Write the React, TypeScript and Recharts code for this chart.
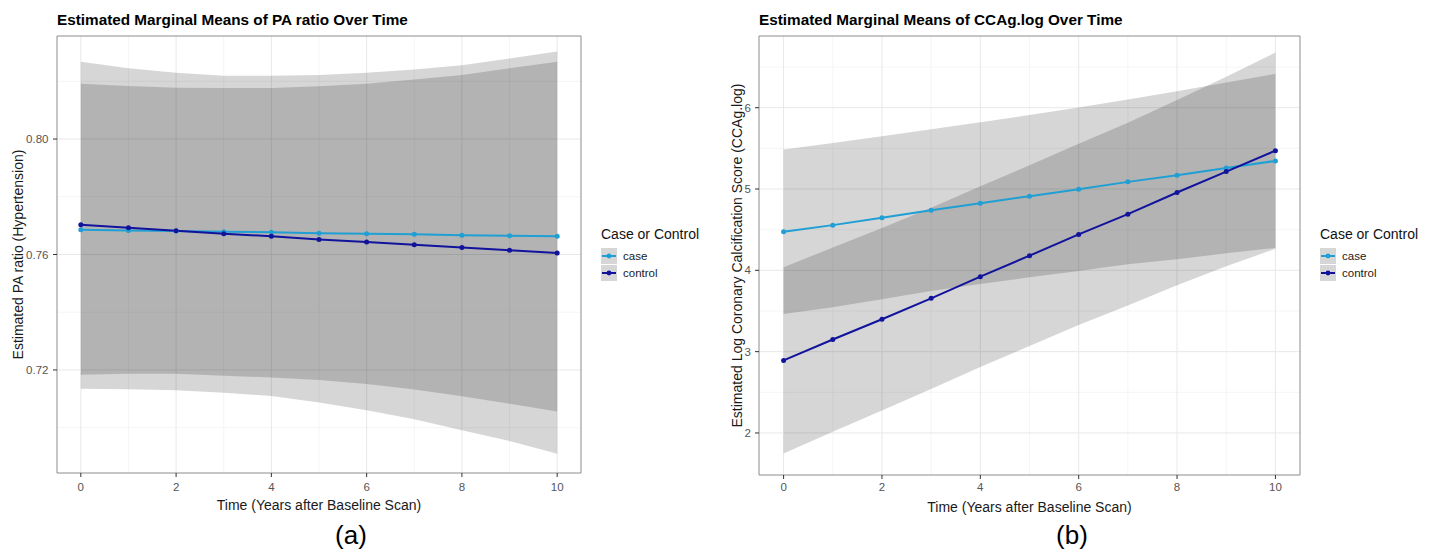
import React from "react";
import {
  Area,
  CartesianGrid,
  ComposedChart,
  Line,
  ReferenceArea,
  XAxis,
  YAxis,
} from "recharts";

const years = [0, 1, 2, 3, 4, 5, 6, 7, 8, 9, 10];
const xTicks = [0, 2, 4, 6, 8, 10];
const xMinor = [1, 3, 5, 7, 9];

// panel (a): PA ratio
const paCase = [0.7686, 0.7683, 0.7681, 0.7679, 0.7677, 0.7674, 0.7672, 0.767, 0.7667, 0.7665, 0.7663];
const paControl = [0.7703, 0.7693, 0.7682, 0.7672, 0.7663, 0.7652, 0.7643, 0.7634, 0.7624, 0.7615, 0.7605];
const paCaseLo = [0.7183, 0.7187, 0.7187, 0.718, 0.7174, 0.7165, 0.7151, 0.7132, 0.7109, 0.7083, 0.7056];
const paCaseHi = [0.8192, 0.8184, 0.8178, 0.8177, 0.8177, 0.8183, 0.8192, 0.8206, 0.8222, 0.8245, 0.8268];
const paControlLo = [0.7135, 0.7133, 0.713, 0.7121, 0.711, 0.7087, 0.706, 0.7029, 0.6991, 0.6954, 0.691];
const paControlHi = [0.8268, 0.8245, 0.823, 0.8219, 0.8219, 0.8222, 0.823, 0.8241, 0.8256, 0.8279, 0.8303];
const paTicks = [0.72, 0.76, 0.8];
const paMinor = [0.7, 0.74, 0.78, 0.82];

// panel (b): CCAg.log
const ccCase = [4.474, 4.556, 4.646, 4.74, 4.826, 4.912, 4.998, 5.088, 5.17, 5.26, 5.346];
const ccControl = [2.892, 3.149, 3.399, 3.656, 3.922, 4.18, 4.442, 4.691, 4.957, 5.215, 5.472];
const ccCaseLo = [3.464, 3.546, 3.644, 3.746, 3.832, 3.914, 3.992, 4.074, 4.136, 4.209, 4.275];
const ccCaseHi = [5.485, 5.566, 5.648, 5.734, 5.82, 5.91, 6.004, 6.102, 6.204, 6.311, 6.417];
const ccControlLo = [1.746, 2.016, 2.277, 2.541, 2.811, 3.069, 3.327, 3.567, 3.818, 4.05, 4.265];
const ccControlHi = [4.038, 4.282, 4.521, 4.771, 5.033, 5.291, 5.557, 5.815, 6.096, 6.38, 6.679];
const ccTicks = [2, 3, 4, 5, 6];
const ccMinor = [2.5, 3.5, 4.5, 5.5, 6.5];

const CASE = "#1f9fd3";
const CONTROL = "#12139c";
const FONT = "'Liberation Sans', Arial, sans-serif";

const buildRows = (
  mCase: number[],
  mControl: number[],
  caseLo: number[],
  caseHi: number[],
  ctlLo: number[],
  ctlHi: number[]
) =>
  years.map((t, i) => ({
    time: t,
    caseMean: mCase[i],
    controlMean: mControl[i],
    caseBand: [caseLo[i], caseHi[i]],
    controlBand: [ctlLo[i], ctlHi[i]],
  }));

interface PanelProps {
  left: number;
  title: string;
  yTitle: string;
  rows: any[];
  yDomain: [number, number];
  yTicks: number[];
  yMinor: number[];
  yFmt: (v: number) => string;
  yAxisWidth: number;
  margin: { top: number; right: number; bottom: number; left: number };
  xTickMargin: number;
  yTickMargin: number;
  yTitleX: number;
  legendX: number;
  caption: string;
  captionX: number;
}

const LegendBox = ({ x }: { x: number }) => (
  <div style={{ position: "absolute", left: x, top: 226, fontFamily: FONT }}>
    <div style={{ fontSize: 14, lineHeight: "16px", color: "#111", marginBottom: 5 }}>
      Case or Control
    </div>
    {[
      { name: "case", color: CASE },
      { name: "control", color: CONTROL },
    ].map((s) => (
      <div key={s.name} style={{ display: "flex", alignItems: "center", height: 17 }}>
        <svg width={16} height={16} style={{ display: "block" }}>
          <rect x={0} y={0} width={16} height={16} fill="#d6d6d6" />
          <line x1={1} y1={8} x2={15} y2={8} stroke={s.color} strokeWidth={2} />
          <circle cx={8} cy={8} r={2.4} fill={s.color} />
        </svg>
        <span style={{ fontSize: 11.5, color: "#1a1a1a", marginLeft: 6 }}>{s.name}</span>
      </div>
    ))}
  </div>
);

const Panel = (p: PanelProps) => {
  const width = 716;
  const height = 550;
  return (
    <div style={{ position: "absolute", left: p.left, top: 0, width, height }}>
      <div
        style={{
          position: "absolute",
          left: p.margin.left + p.yAxisWidth,
          top: 12,
          fontFamily: FONT,
          fontWeight: "bold",
          fontSize: 15.3,
          lineHeight: "15px",
          color: "#000",
          whiteSpace: "nowrap",
        }}
      >
        {p.title}
      </div>
      <ComposedChart width={width} height={height} data={p.rows} margin={p.margin}>
        <CartesianGrid
          stroke="#efefef"
          strokeWidth={0.6}
          horizontalValues={p.yMinor}
          verticalValues={xMinor}
        />
        <CartesianGrid
          stroke="#e8e8e8"
          strokeWidth={1}
          horizontalValues={p.yTicks}
          verticalValues={xTicks}
        />
        <XAxis
          dataKey="time"
          type="number"
          domain={[-0.5, 10.5]}
          allowDataOverflow
          ticks={xTicks}
          axisLine={false}
          tickSize={4}
          tickMargin={p.xTickMargin}
          tickLine={{ stroke: "#333" }}
          tick={{ fontSize: 11.5, fill: "#555", fontFamily: FONT }}
          height={40}
          label={{
            content: (lp: any) => {
              const vb = lp.viewBox;
              return (
                <text
                  x={vb.x + vb.width / 2}
                  y={vb.y + 37}
                  textAnchor="middle"
                  fontSize={14}
                  fontFamily={FONT}
                  fill="#1a1a1a"
                >
                  Time (Years after Baseline Scan)
                </text>
              );
            },
          }}
        />
        <YAxis
          type="number"
          domain={p.yDomain}
          allowDataOverflow
          ticks={p.yTicks}
          tickFormatter={p.yFmt}
          axisLine={false}
          width={p.yAxisWidth}
          tickSize={4}
          tickMargin={p.yTickMargin}
          tickLine={{ stroke: "#333" }}
          tick={{ fontSize: 11.5, fill: "#555", fontFamily: FONT }}
          label={{
            content: (lp: any) => {
              const vb = lp.viewBox;
              const cy = vb.y + vb.height / 2;
              return (
                <text
                  x={p.yTitleX}
                  y={cy}
                  transform={`rotate(-90 ${p.yTitleX} ${cy})`}
                  textAnchor="middle"
                  dominantBaseline="central"
                  fontSize={14}
                  fontFamily={FONT}
                  fill="#1a1a1a"
                >
                  {p.yTitle}
                </text>
              );
            },
          }}
        />
        <Area
          dataKey="controlBand"
          type="linear"
          stroke="none"
          fill="#000"
          fillOpacity={0.16}
          dot={false}
          activeDot={false}
          isAnimationActive={false}
        />
        <Area
          dataKey="caseBand"
          type="linear"
          stroke="none"
          fill="#000"
          fillOpacity={0.16}
          dot={false}
          activeDot={false}
          isAnimationActive={false}
        />
        <Line
          dataKey="caseMean"
          type="linear"
          stroke={CASE}
          strokeWidth={2}
          dot={{ r: 2.5, fill: CASE, stroke: CASE, strokeWidth: 0 }}
          activeDot={false}
          isAnimationActive={false}
        />
        <Line
          dataKey="controlMean"
          type="linear"
          stroke={CONTROL}
          strokeWidth={2}
          dot={{ r: 2.5, fill: CONTROL, stroke: CONTROL, strokeWidth: 0 }}
          activeDot={false}
          isAnimationActive={false}
        />
        <ReferenceArea
          x1={-0.5}
          x2={10.5}
          y1={p.yDomain[0]}
          y2={p.yDomain[1]}
          fill="none"
          stroke="#8c8c8c"
          strokeWidth={1}
          ifOverflow="visible"
        />
      </ComposedChart>
      <LegendBox x={p.legendX} />
      <div
        style={{
          position: "absolute",
          left: p.captionX - 40,
          width: 80,
          textAlign: "center",
          top: 522,
          fontFamily: FONT,
          fontSize: 26,
          lineHeight: "26px",
          color: "#000",
        }}
      >
        {p.caption}
      </div>
    </div>
  );
};

export default function App() {
  const paRows = buildRows(paCase, paControl, paCaseLo, paCaseHi, paControlLo, paControlHi);
  const ccRows = buildRows(ccCase, ccControl, ccCaseLo, ccCaseHi, ccControlLo, ccControlHi);
  return (
    <div
      style={{
        position: "absolute",
        left: 0,
        top: 0,
        width: 1432,
        height: 550,
        background: "#fff",
        overflow: "hidden",
      }}
    >
      <Panel
        left={0}
        title="Estimated Marginal Means of PA ratio Over Time"
        yTitle="Estimated PA ratio (Hypertension)"
        rows={paRows}
        yDomain={[0.6843, 0.8357]}
        yTicks={paTicks}
        yMinor={paMinor}
        yFmt={(v) => v.toFixed(2)}
        yAxisWidth={40}
        margin={{ top: 36, right: 135, bottom: 37, left: 17 }}
        xTickMargin={6}
        yTickMargin={4.5}
        yTitleX={18}
        legendX={601}
        caption="(a)"
        captionX={351}
      />
      <Panel
        left={716}
        title="Estimated Marginal Means of CCAg.log Over Time"
        yTitle="Estimated Log Coronary Calcification Score (CCAg.log)"
        rows={ccRows}
        yDomain={[1.483, 6.882]}
        yTicks={ccTicks}
        yMinor={ccMinor}
        yFmt={(v) => String(v)}
        yAxisWidth={30}
        margin={{ top: 36, right: 132, bottom: 35, left: 13 }}
        xTickMargin={4}
        yTickMargin={4}
        yTitleX={21}
        legendX={604}
        caption="(b)"
        captionX={356}
      />
    </div>
  );
}
